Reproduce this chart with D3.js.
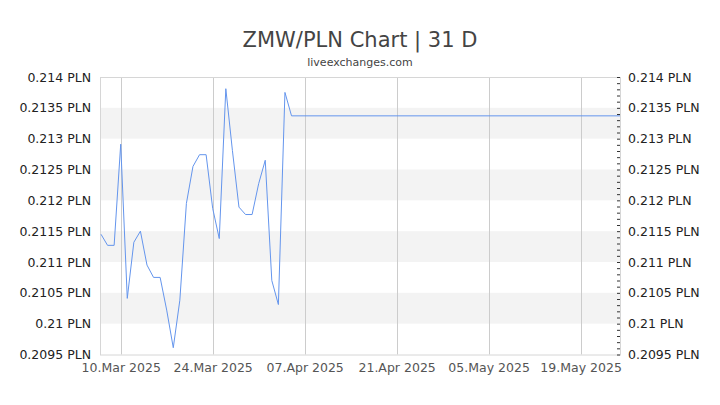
<!DOCTYPE html>
<html>
<head>
<meta charset="utf-8">
<script src="https://cdn.jsdelivr.net/npm/d3@7"></script>
<style>
  body { margin: 0; background: #fff; }
  svg { display: block; font-family: "DejaVu Sans", sans-serif; }
</style>
</head>
<body>
<svg width="720" height="405"></svg>
<script>
// daily ZMW/PLN rate
var dates = ["2025-03-07", "2025-03-08", "2025-03-09", "2025-03-10", "2025-03-11", "2025-03-12",
  "2025-03-13", "2025-03-14", "2025-03-15", "2025-03-16", "2025-03-17", "2025-03-18",
  "2025-03-19", "2025-03-20", "2025-03-21", "2025-03-22", "2025-03-23", "2025-03-24",
  "2025-03-25", "2025-03-26", "2025-03-27", "2025-03-28", "2025-03-29", "2025-03-30",
  "2025-03-31", "2025-04-01", "2025-04-02", "2025-04-03", "2025-04-04", "2025-04-05",
  "2025-05-25"];
var rates = [0.21145, 0.21127, 0.21127, 0.21291, 0.21041, 0.21132,
  0.21150, 0.21095, 0.21075, 0.21075, 0.21022, 0.20961,
  0.21038, 0.21195, 0.21255, 0.21274, 0.21274, 0.21187,
  0.21138, 0.21381, 0.21281, 0.21189, 0.21177, 0.21177,
  0.21227, 0.21265, 0.21070, 0.21031, 0.21375, 0.21337,
  0.21337];
var yTicks = [0.2095, 0.21, 0.2105, 0.211, 0.2115, 0.212, 0.2125, 0.213, 0.2135, 0.214];
var xTicks = ["2025-03-10", "2025-03-24", "2025-04-07", "2025-04-21", "2025-05-05", "2025-05-19"];

var parse = d3.timeParse("%Y-%m-%d");
var data = dates.map(function (d, i) { return { date: parse(d), value: rates[i] }; });

var svg = d3.select("svg"),
  margin = { top: 77, right: 100, bottom: 50, left: 101 },
  width = +svg.attr("width") - margin.left - margin.right,
  height = 277.5;

var x = d3.scaleTime().domain(d3.extent(data, function (d) { return d.date; })).range([0, width]),
  y = d3.scaleLinear().domain([0.2095, 0.214]).range([height, 0]);

var fmtY = function (d) { return (+d.toFixed(4)) + " PLN"; };
var fmtX = d3.timeFormat("%d.%b %Y");

// title
svg.append("text").attr("x", 360).attr("y", 47).attr("text-anchor", "middle")
  .attr("fill", "#444").style("font-size", "21px").text("ZMW/PLN Chart | 31 D");
svg.append("text").attr("x", 360).attr("y", 66).attr("text-anchor", "middle")
  .attr("fill", "#444").style("font-size", "11px").text("liveexchanges.com");

var g = svg.append("g").attr("transform", "translate(" + margin.left + "," + margin.top + ")");

// alternating bands
var bands = [];
for (var i = 1; i < yTicks.length - 1; i += 2) bands.push([yTicks[i], yTicks[i + 1]]);
g.selectAll(".band").data(bands).enter().append("rect")
  .attr("class", "band")
  .attr("x", 0).attr("width", width)
  .attr("y", function (d) { return y(d[1]); })
  .attr("height", function (d) { return y(d[0]) - y(d[1]); })
  .attr("fill", "#f3f3f3");

// vertical grid
g.selectAll(".vgrid").data(xTicks.map(parse)).enter().append("line")
  .attr("class", "vgrid")
  .attr("x1", function (d) { return Math.round(x(d)) + 0.5; })
  .attr("x2", function (d) { return Math.round(x(d)) + 0.5; })
  .attr("y1", 0).attr("y2", height)
  .attr("stroke", "#ccc");

// frame
g.append("rect").attr("x", -0.5).attr("y", 0.5).attr("width", width + 1).attr("height", height)
  .attr("fill", "none").attr("stroke", "#d6d6d6");

// left axis (labels only)
var yl = g.append("g").call(d3.axisLeft(y).tickValues(yTicks).tickFormat(fmtY).tickSize(0).tickPadding(10));
yl.select(".domain").remove();
yl.selectAll("text").attr("fill", "#222").style("font-size", "12.5px").style("font-family", "DejaVu Sans");

// right axis with minor ticks
var minor = d3.range(20950, 21401, 10).map(function (v) { return v / 100000; });
var yr = g.append("g").attr("transform", "translate(" + width + ",0)")
  .call(d3.axisLeft(y).tickValues(minor).tickFormat("").tickSize(3));
yr.select(".domain").remove();
yr.selectAll("line").attr("stroke", "#333");
var yr2 = g.append("g").attr("transform", "translate(" + width + ",0)")
  .call(d3.axisRight(y).tickValues(yTicks).tickFormat(fmtY).tickSize(0).tickPadding(8));
yr2.select(".domain").remove();
yr2.selectAll("text").attr("fill", "#222").style("font-size", "12.5px").style("font-family", "DejaVu Sans");

// bottom axis
var xa = g.append("g").attr("transform", "translate(0," + height + ")")
  .call(d3.axisBottom(x).tickValues(xTicks.map(parse)).tickFormat(fmtX).tickSize(0).tickPadding(9));
xa.select(".domain").remove();
xa.selectAll("text").attr("fill", "#555").style("font-size", "12.5px").style("font-family", "DejaVu Sans");

// line
var line = d3.line()
  .x(function (d) { return x(d.date); })
  .y(function (d) { return y(d.value); });
g.append("path").datum(data)
  .attr("fill", "none")
  .attr("stroke", "#6495ed")
  .attr("stroke-width", 1)
  .attr("d", line);
</script>
</body>
</html>
